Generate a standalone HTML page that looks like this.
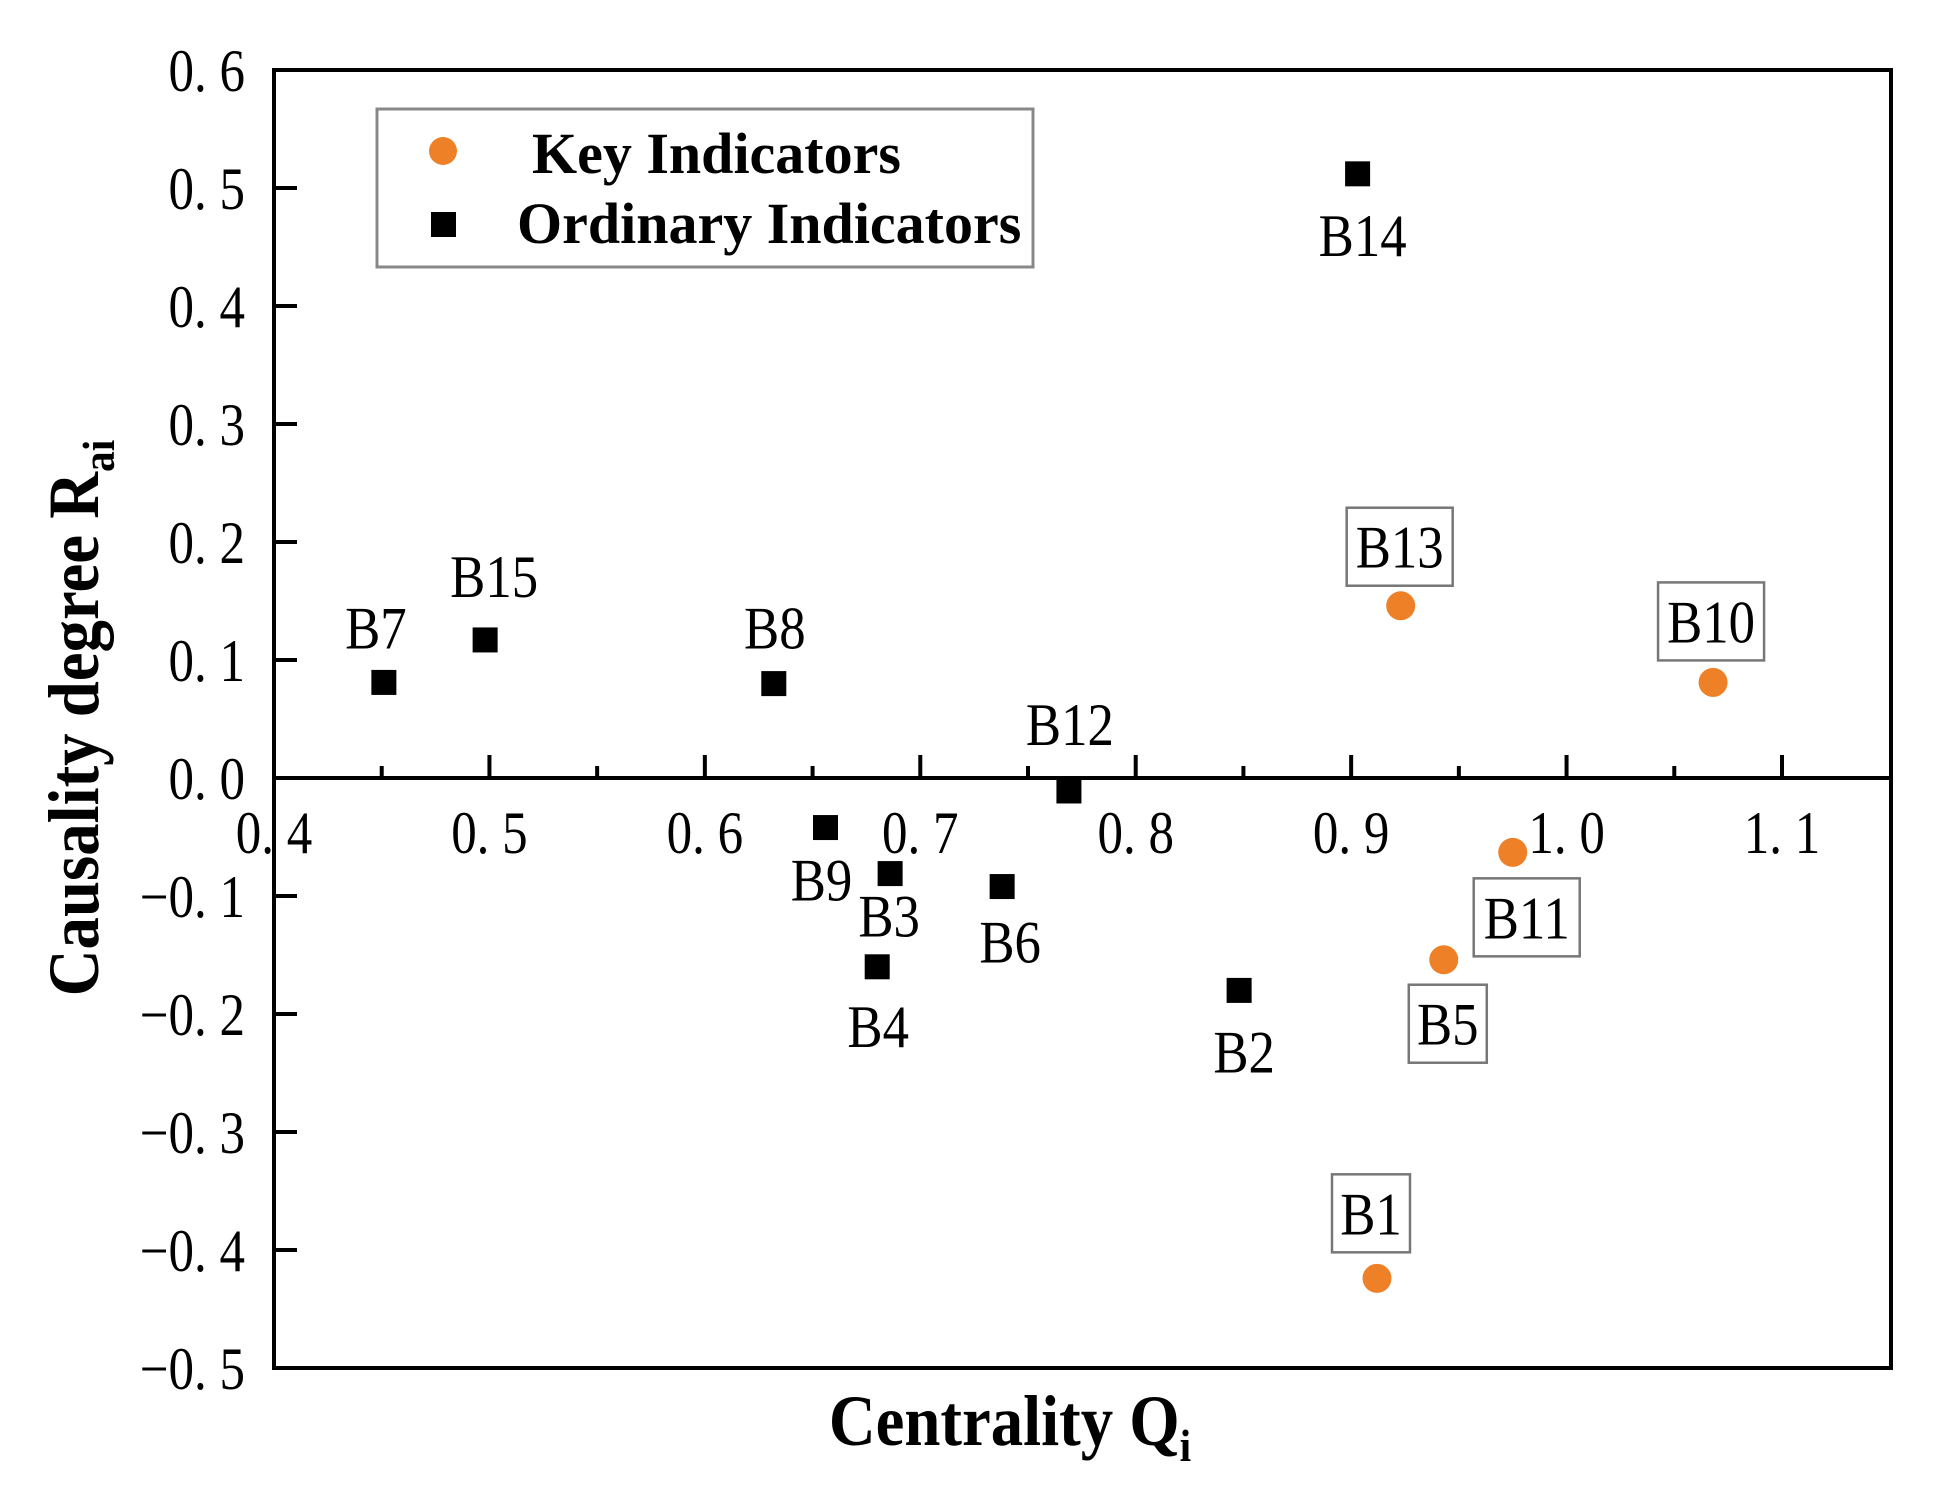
<!DOCTYPE html>
<html><head><meta charset="utf-8"><style>
html,body{margin:0;padding:0;background:#fff;}
svg{display:block;font-family:"Liberation Serif",serif;}
</style></head><body>
<svg id="chart" width="1951" height="1499" viewBox="0 0 1951 1499" xmlns="http://www.w3.org/2000/svg">
<rect x="0" y="0" width="1951" height="1499" fill="#fff"/>
<g id="plot"></g>
<g>
  <rect x="377" y="109" width="656" height="158" fill="#fff" stroke="#888" stroke-width="3"/>
  <circle cx="443" cy="151" r="14" fill="#EE8127"/>
  <text x="532" y="173" font-size="58" font-weight="bold">Key Indicators</text>
  <rect x="431" y="212" width="25" height="25" fill="#000"/>
  <text x="517" y="243" font-size="58" font-weight="bold">Ordinary Indicators</text>
</g>
<text transform="translate(1010,1445) scale(0.9,1)" font-size="72" font-weight="bold" text-anchor="middle">Centrality Q<tspan font-size="46" dy="16">i</tspan></text>
<text transform="translate(98,718) rotate(-90) scale(0.9,1)" font-size="72" font-weight="bold" text-anchor="middle">Causality degree R<tspan font-size="46" dy="16">ai</tspan></text>
</svg>
<script>
const ordinaryNames = ["B7","B15","B8","B12","B9","B3","B4","B6","B2","B14"];
const ordinaryX = [0.451,0.498,0.632,0.769,0.656,0.686,0.680,0.738,0.848,0.903];
const ordinaryY = [0.081,0.117,0.080,-0.011,-0.042,-0.081,-0.160,-0.092,-0.180,0.512];
const keyNames = ["B13","B10","B11","B5","B1"];
const keyX = [0.923,1.068,0.975,0.943,0.912];
const keyY = [0.146,0.081,-0.063,-0.154,-0.424];
const xTicks = [0.4,0.5,0.6,0.7,0.8,0.9,1.0,1.1];
const xTickLabels = ["0. 4","0. 5","0. 6","0. 7","0. 8","0. 9","1. 0","1. 1"];
const yTicks = [0.6,0.5,0.4,0.3,0.2,0.1,0.0,-0.1,-0.2,-0.3,-0.4,-0.5];
const yTickLabels = ["0. 6","0. 5","0. 4","0. 3","0. 2","0. 1","0. 0","\u22120. 1","\u22120. 2","\u22120. 3","\u22120. 4","\u22120. 5"];

// label offsets (styling, px)
const ordOff = {B7:[-8,-55],B15:[9,-64],B8:[1,-56],B12:[1,-67],B9:[-4,52],B3:[-1,42],B4:[1,59],B6:[8,55],B2:[5,61],B14:[5,61]};
const keyOff = {B13:[-1,-59],B10:[-2,-61],B11:[14,65],B5:[4,64],B1:[-6,-65]};

const L=274,R=1891,T=70,B=1368;
const X0=0.4,X1=1.1,XP0=274,XP1=1782;
const Y0=-0.5,Y1=0.6;
function sx(v){return XP0+(v-X0)/(X1-X0)*(XP1-XP0);}
function sy(v){return B-(v-Y0)/(Y1-Y0)*(B-T);}
const NS="http://www.w3.org/2000/svg";
const g=document.getElementById('plot');
function mk(tag,attrs){const e=document.createElementNS(NS,tag);for(const k in attrs)e.setAttribute(k,attrs[k]);g.appendChild(e);return e;}
function txt(x,y,s,size,anchor,sc){const e=mk('text',{x:0,y:0,'font-size':size,'text-anchor':anchor,transform:'translate('+x+','+y+') scale('+sc+',1)'});e.textContent=s;return e;}

let fr=mk('rect',{x:L,y:T,width:R-L,height:B-T,fill:'none',stroke:'#000','stroke-width':4});


const zy=sy(0);
let za=mk('line',{x1:L,x2:R,y1:zy,y2:zy,stroke:'#000','stroke-width':4});



xTicks.forEach((v,i)=>{
  const x=sx(v);
  const t=mk('line',{x1:x,x2:x,y1:zy,y2:zy-23,stroke:'#000','stroke-width':4});
  
  
  if(i<xTicks.length-1){
    const xm=sx(v+0.05);
    const m=mk('line',{x1:xm,x2:xm,y1:zy,y2:zy-12,stroke:'#000','stroke-width':4});
    
    
  }
  const tx=txt(x,zy+75,xTickLabels[i],60,'middle',0.85);
  
  
});
yTicks.forEach((v,i)=>{
  const y=sy(v);
  const t=mk('line',{x1:L,x2:L+23,y1:y,y2:y,stroke:'#000','stroke-width':4});
  
  
  const tx=txt(245,y+21,yTickLabels[i],60,'end',0.85);
  
  
});

ordinaryNames.forEach((n,i)=>{
  const x=sx(ordinaryX[i]),y=sy(ordinaryY[i]);
  const r=mk('rect',{x:x-12.5,y:y-12.5,width:25,height:25,fill:'#000'});
  
  
  const o=ordOff[n]||[0,-55];
  const t=txt(x+o[0],y+o[1]+21,n,60,'middle',0.88);
  
  
});
keyNames.forEach((n,i)=>{
  const x=sx(keyX[i]),y=sy(keyY[i]);
  const c=mk('circle',{cx:x,cy:y,r:14.5,fill:'#EE8127'});
  
  
  const o=keyOff[n]||[0,-60];
  const cx=x+o[0],cy=y+o[1];
  const w=n.length*28+22;
  const bx=mk('rect',{x:cx-w/2,y:cy-39,width:w,height:78,fill:'#fff',stroke:'#777','stroke-width':2.5});
  
  
  const t=txt(cx,cy+21,n,60,'middle',0.88);
  
  
});
</script>
</body></html>
